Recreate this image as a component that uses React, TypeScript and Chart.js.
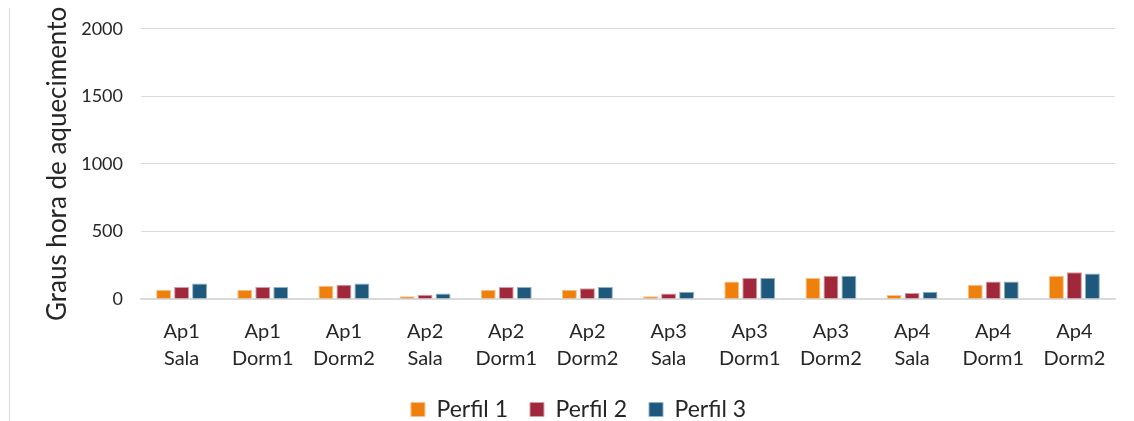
import { useEffect, useRef } from "react";
import { Chart, registerables } from "chart.js";

Chart.register(...registerables);

// Room labels (two lines each) along the x axis
const categories: string[][] = [
  ["Ap1", "Sala"], ["Ap1", "Dorm1"], ["Ap1", "Dorm2"],
  ["Ap2", "Sala"], ["Ap2", "Dorm1"], ["Ap2", "Dorm2"],
  ["Ap3", "Sala"], ["Ap3", "Dorm1"], ["Ap3", "Dorm2"],
  ["Ap4", "Sala"], ["Ap4", "Dorm1"], ["Ap4", "Dorm2"],
];

// Heating degree-hours per occupancy profile
const perfil1: number[] = [69, 69, 99, 20, 69, 69, 20, 129, 156, 30, 106, 173];
const perfil2: number[] = [89, 89, 106, 32, 89, 79, 40, 156, 173, 45, 129, 198];
const perfil3: number[] = [114, 88, 114, 40, 89, 89, 54, 156, 173, 54, 129, 188];

const seriesNames: string[] = ["Perfil 1", "Perfil 2", "Perfil 3"];
const yTicks: number[] = [0, 500, 1000, 1500, 2000];

const FONT = "Lato, 'Open Sans', sans-serif";

export default function App() {
  const canvasRef = useRef<HTMLCanvasElement | null>(null);

  useEffect(() => {
    if (!canvasRef.current) return;
    const colors = ["#F0800C", "#A1283A", "#1E587D"];
    const borders = ["#F8C08A", "#D49AA2", "#8FB0C4"];
    const values = [perfil1, perfil2, perfil3];
    const chart = new Chart(canvasRef.current, {
      type: "bar",
      data: {
        labels: categories,
        datasets: values.map((v, i) => ({
          label: seriesNames[i],
          data: v,
          backgroundColor: colors[i],
          borderColor: borders[i],
          borderWidth: 1,
          categoryPercentage: 0.665,
          barPercentage: 0.83,
        })),
      },
      options: {
        animation: false,
        responsive: true,
        maintainAspectRatio: false,
        layout: { padding: { left: 32, right: 19, top: 18, bottom: 0 } },
        plugins: {
          legend: {
            position: "bottom",
            labels: {
              boxWidth: 14,
              boxHeight: 14,
              padding: 22,
              color: "#262626",
              font: { family: FONT, size: 23 },
            },
          },
          tooltip: { enabled: false },
        },
        scales: {
          x: {
            grid: { display: false, drawTicks: false },
            border: { display: true, color: "#D9D9D9", width: 1.5 },
            afterFit: (axis: any) => {
              axis.height = 77;
            },
            ticks: {
              color: "#262626",
              font: { family: FONT, size: 20, lineHeight: 1.35 },
              padding: 19,
              maxRotation: 0,
              autoSkip: false,
            },
          },
          y: {
            min: 0,
            max: 2000,
            afterBuildTicks: (axis: any) => {
              axis.ticks = yTicks.map((value) => ({ value }));
            },
            afterFit: (axis: any) => {
              axis.width = 99;
            },
            grid: { color: "#D9D9D9", drawTicks: false },
            border: { display: false },
            ticks: {
              color: "#262626",
              font: { family: FONT, size: 18 },
              padding: 18,
              callback: (value: any) => String(value),
            },
            title: {
              display: true,
              text: "Graus hora de aquecimento",
              color: "#262626",
              font: { family: FONT, size: 26 },
              padding: { top: 0, bottom: 0 },
            },
          },
        },
      },
    });
    return () => chart.destroy();
  }, []);

  return (
    <div style={{ position: "fixed", left: 0, top: 0, width: 1134, height: 421, background: "#fff", overflow: "hidden" }}>
      <div style={{ position: "absolute", left: 9, top: 8, bottom: 0, borderLeft: "1px solid #D9D9D9" }} />
      <div style={{ position: "absolute", left: 10, top: 0, width: 1124, height: 431 }}>
        <canvas ref={canvasRef} />
      </div>
    </div>
  );
}
